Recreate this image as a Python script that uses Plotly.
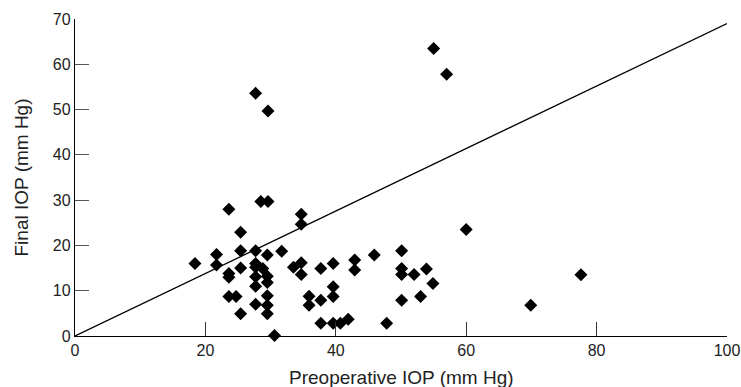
import plotly.graph_objects as go

preop_iop = [18.4, 21.7, 21.7, 23.6, 23.6, 23.6, 23.6, 24.7, 25.4, 25.4, 25.4, 25.4,
             27.7, 27.7, 27.7, 27.7, 27.7, 27.7, 28.5, 29.6, 28.8, 29.5, 29.5, 29.5,
             29.5, 29.5, 29.5, 30.6, 31.7, 33.5, 34.7, 34.7, 34.7, 34.7, 35.9, 35.9,
             37.7, 37.7, 37.7, 39.6, 39.6, 39.6, 39.6, 40.7, 41.9, 42.9, 42.9, 45.9,
             47.8, 50.1, 50.1, 50.1, 50.1, 52.0, 53.0, 53.9, 54.9, 60.0, 55.0, 57.0,
             77.6, 69.9, 29.6, 27.7]
final_iop = [16.0, 18.0, 15.7, 28.0, 13.8, 13.0, 8.7, 8.7, 22.9, 18.8, 15.0, 4.9,
             18.8, 16.0, 13.1, 11.0, 7.0, 15.2, 29.7, 29.7, 14.9, 17.9, 13.2, 11.8,
             8.9, 6.8, 4.9, 0.1, 18.7, 15.2, 26.9, 24.7, 16.2, 13.6, 8.8, 6.8,
             14.9, 7.9, 2.8, 16.0, 10.9, 8.7, 2.8, 2.8, 3.7, 16.8, 14.6, 17.9,
             2.8, 18.8, 14.9, 13.6, 7.9, 13.6, 8.7, 14.8, 11.6, 23.5, 63.5, 57.8,
             13.5, 6.8, 49.7, 53.6]

line_x = [0, 100]
line_y = [0, 69]

x_ticks = [0, 20, 40, 60, 80, 100]
y_ticks = [0, 10, 20, 30, 40, 50, 60, 70]

x_title = "Preoperative IOP (mm Hg)"
y_title = "Final IOP (mm Hg)"

fig = go.Figure()
fig.add_trace(go.Scatter(x=line_x, y=line_y, mode="lines",
                         line=dict(color="black", width=1.3),
                         showlegend=False, hoverinfo="skip"))
fig.add_trace(go.Scatter(x=preop_iop, y=final_iop, mode="markers",
                         marker=dict(symbol="diamond", size=10, color="black",
                                     line=dict(width=0)),
                         cliponaxis=False, showlegend=False))

fam = "Liberation Sans, Arial, sans-serif"
tick_font = dict(family=fam, size=16, color="#222")
title_font = dict(family=fam, size=19, color="#222")

fig.update_layout(
    width=741, height=387,
    margin=dict(l=75, r=14, t=19, b=51, autoexpand=False),
    paper_bgcolor="white", plot_bgcolor="white",
    font=tick_font,
    annotations=[
        dict(text=x_title, xref="paper", yref="paper", x=0.5, y=0,
             xanchor="center", yanchor="middle", yshift=-41,
             showarrow=False, font=title_font),
        dict(text=y_title, xref="paper", yref="paper", x=0, y=0.5,
             xanchor="center", yanchor="middle", xshift=-54, textangle=-90,
             showarrow=False, font=title_font),
    ],
)
fig.update_xaxes(
    range=[0, 100], tickvals=x_ticks, ticks="inside", ticklen=14, tickwidth=1,
    tickcolor="#333", showline=True, linecolor="black", linewidth=1.3,
    showgrid=False, zeroline=False, tickfont=tick_font, automargin=False,
)
fig.update_yaxes(
    range=[0, 70], tickvals=y_ticks, ticks="inside", ticklen=14, tickwidth=1,
    tickcolor="#555", showline=True, linecolor="black", linewidth=1.3,
    showgrid=False, zeroline=False, tickfont=tick_font, automargin=False,
)

fig.write_html(
    "out.html",
    config={"displayModeBar": False},
    post_script="document.body.style.margin='0';document.body.style.overflow='hidden';",
)
